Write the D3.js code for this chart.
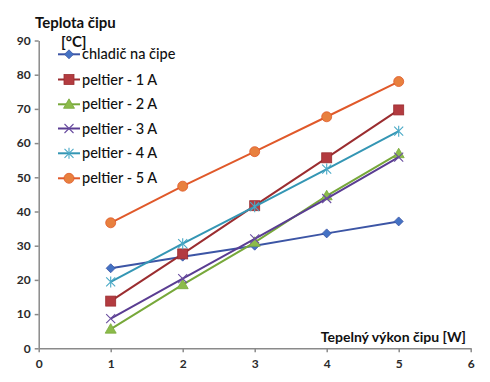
<!DOCTYPE html>
<html><head><meta charset="utf-8">
<script src="https://cdn.jsdelivr.net/npm/d3@7"></script>
<style>body{margin:0;background:#fff}svg{display:block}</style>
</head><body>
<svg id="c" width="490" height="382"></svg>
<script>
const xValues = [1, 2, 3, 4, 5];
const seriesNames = ["chladič na čipe", "peltier - 1 A", "peltier - 2 A", "peltier - 3 A", "peltier - 4 A", "peltier - 5 A"];
const chladic = [23.4, 26.8, 30.0, 33.6, 37.1];
const peltier1 = [13.8, 27.6, 41.7, 55.7, 69.7];
const peltier2 = [5.6, 18.6, 31.0, 44.6, 56.9];
const peltier3 = [8.7, 20.4, 32.0, 43.8, 55.9];
const peltier4 = [19.4, 30.6, 41.4, 52.4, 63.5];
const peltier5 = [36.7, 47.4, 57.5, 67.7, 78.0];
const xTicks = [0, 1, 2, 3, 4, 5, 6];
const yTicks = [0, 10, 20, 30, 40, 50, 60, 70, 80, 90];

const series = [
  {name: seriesNames[0], values: chladic, line: "#3c55a5", fill: "#4472c4", marker: "diamond"},
  {name: seriesNames[1], values: peltier1, line: "#9b2d30", fill: "#b33b40", marker: "square"},
  {name: seriesNames[2], values: peltier2, line: "#77a83a", fill: "#8cbb4a", marker: "triangle"},
  {name: seriesNames[3], values: peltier3, line: "#5a3d92", fill: "#6a4ea0", marker: "x"},
  {name: seriesNames[4], values: peltier4, line: "#3496b4", fill: "#4aa9c6", marker: "star"},
  {name: seriesNames[5], values: peltier5, line: "#e0592a", fill: "#e8803e", marker: "circle"}
];

const FONT = "Lato, 'Open Sans', sans-serif";
const svg = d3.select("#c");
const x = d3.scaleLinear().domain([0, 6]).range([38.7, 470.7]);
const y = d3.scaleLinear().domain([0, 90]).range([348.3, 40.5]);

const axisColor = "#8a8a8a";
const xAxis = svg.append("g").attr("transform", `translate(0,${y(0)})`)
  .call(d3.axisBottom(x).tickValues(xTicks).tickSize(4).tickSizeOuter(0).tickFormat(d3.format("d")));
const yAxis = svg.append("g").attr("transform", `translate(${x(0)},0)`)
  .call(d3.axisLeft(y).tickValues(yTicks).tickSize(4).tickSizeOuter(0).tickFormat(d3.format("d")));
[xAxis, yAxis].forEach(a => {
  a.selectAll("path, line").attr("stroke", axisColor).attr("stroke-width", 1.5);
  a.selectAll("text").attr("fill", "#2a2a2a").style("font-family", FONT).style("font-size", "12px").style("font-weight", "bold");
});
xAxis.selectAll("text").attr("dy", "1.05em");
yAxis.selectAll("text").attr("x", -8);

const line = d3.line().x((d, i) => x(xValues[i])).y(d => y(d));

function drawMarker(g, type, cx, cy, s) {
  if (type === "diamond") {
    g.append("path").attr("d", `M${cx},${cy-4.5}L${cx+4.5},${cy}L${cx},${cy+4.5}L${cx-4.5},${cy}Z`)
      .attr("fill", s.fill).attr("stroke", s.line).attr("stroke-width", 0.8);
  } else if (type === "square") {
    g.append("rect").attr("x", cx-5).attr("y", cy-5).attr("width", 10).attr("height", 10)
      .attr("fill", s.fill).attr("stroke", s.line).attr("stroke-width", 0.8);
  } else if (type === "triangle") {
    g.append("path").attr("d", `M${cx},${cy-5.5}L${cx+5.5},${cy+4}L${cx-5.5},${cy+4}Z`)
      .attr("fill", s.fill).attr("stroke", s.line).attr("stroke-width", 0.8);
  } else if (type === "x") {
    g.append("path").attr("d", `M${cx-4.5},${cy-4.5}L${cx+4.5},${cy+4.5}M${cx-4.5},${cy+4.5}L${cx+4.5},${cy-4.5}`)
      .attr("stroke", s.fill).attr("stroke-width", 1.1);
  } else if (type === "star") {
    g.append("path").attr("d", `M${cx-4.5},${cy-4.5}L${cx+4.5},${cy+4.5}M${cx-4.5},${cy+4.5}L${cx+4.5},${cy-4.5}M${cx},${cy-5.5}L${cx},${cy+5.5}`)
      .attr("stroke", s.fill).attr("stroke-width", 1.1);
  } else {
    g.append("circle").attr("cx", cx).attr("cy", cy).attr("r", 5)
      .attr("fill", s.fill).attr("stroke", s.line).attr("stroke-width", 0.8);
  }
}

series.forEach(s => {
  const g = svg.append("g");
  g.append("path").datum(s.values).attr("d", line).attr("fill", "none")
    .attr("stroke", s.line).attr("stroke-width", 2);
  s.values.forEach((v, i) => drawMarker(g, s.marker, x(xValues[i]), y(v), s));
});

// Legend
const legendY = [54.3, 79.5, 104.3, 128.5, 153.3, 178.3];
series.forEach((s, i) => {
  const g = svg.append("g");
  const ly = legendY[i];
  g.append("line").attr("x1", 58).attr("x2", 80).attr("y1", ly).attr("y2", ly)
    .attr("stroke", s.line).attr("stroke-width", 2);
  drawMarker(g, s.marker, 69, ly, s);
  g.append("text").attr("x", 82).attr("y", ly + 5).text(s.name)
    .style("font-family", FONT).style("font-size", "14.5px").style("font-weight", "500").attr("fill", "#111");
});

// Titles
svg.append("text").attr("x", 35).attr("y", 28).text("Teplota čipu")
  .style("font-family", FONT).style("font-size", "15px").style("font-weight", "bold").attr("fill", "#111");
svg.append("text").attr("x", 61).attr("y", 47).text("[°C]")
  .style("font-family", FONT).style("font-size", "15px").style("font-weight", "bold").attr("fill", "#111");
svg.append("text").attr("x", 466).attr("y", 342).attr("text-anchor", "end").text("Tepelný výkon čipu [W]")
  .style("font-family", FONT).style("font-size", "14px").style("font-weight", "bold").attr("fill", "#111");
</script>
</body></html>
